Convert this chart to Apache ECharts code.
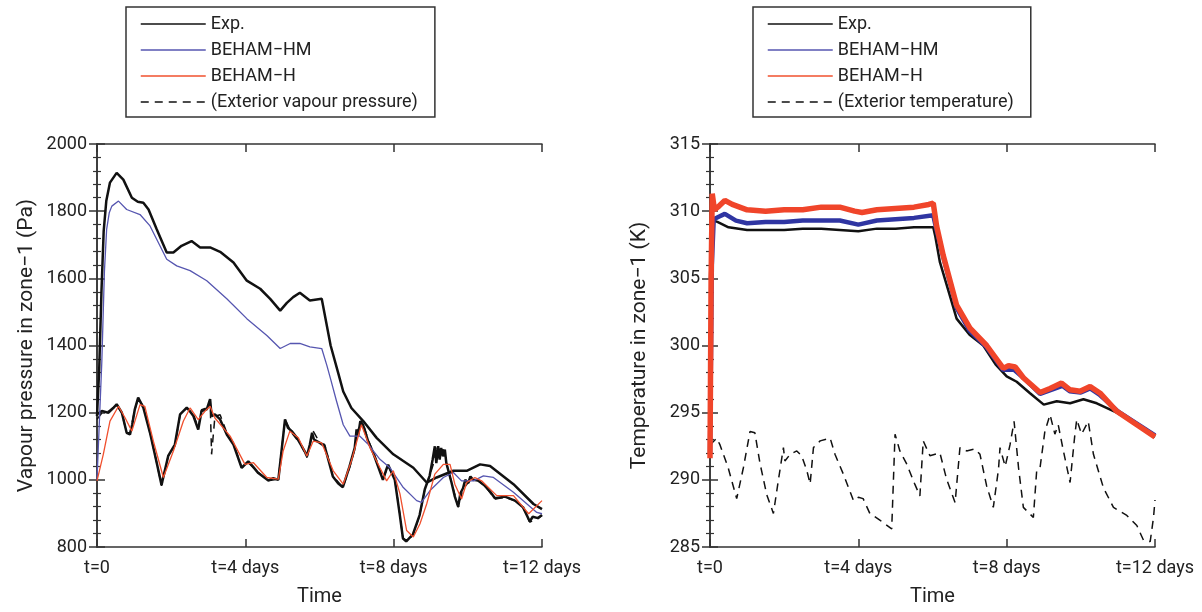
<!DOCTYPE html>
<html>
<head>
<meta charset="utf-8">
<script src="https://cdn.jsdelivr.net/npm/echarts@6/dist/echarts.min.js"></script>
<style>
  html, body { margin: 0; padding: 0; background: #fff; }
  #chart { width: 1202px; height: 612px; }
</style>
</head>
<body>
<div id="chart"></div>
<script>
// time axis labels (days)
var xTickLabels = ['t=0', 't=4 days', 't=8 days', 't=12 days'];

// ---- left panel: vapour pressure (Pa), [t in days, value]
var vpExp = [[0,1190],[0.06,1330],[0.12,1560],[0.18,1740],[0.25,1830],[0.35,1885],[0.53,1914],[0.71,1894],[0.94,1840],[1.1,1828],[1.25,1825],[1.39,1805],[1.61,1746],[1.88,1677],[2.06,1677],[2.28,1697],[2.55,1711],[2.78,1692],[3.05,1692],[3.32,1679],[3.68,1647],[4.04,1593],[4.4,1569],[4.67,1539],[4.94,1504],[5.12,1527],[5.29,1544],[5.47,1557],[5.74,1534],[6.06,1539],[6.3,1400],[6.5,1320],[6.64,1263],[6.86,1214],[7.18,1175],[7.54,1125],[7.99,1076],[8.53,1036],[8.89,992],[9.16,1007],[9.61,1027],[9.97,1027],[10.33,1046],[10.6,1041],[11.23,987],[11.77,928],[12,913]];
var vpHM = [[0,1000],[0.13,1352],[0.2,1620],[0.26,1746],[0.33,1795],[0.4,1815],[0.58,1830],[0.8,1805],[1.16,1790],[1.43,1756],[1.88,1657],[2.15,1637],[2.51,1623],[2.96,1593],[3.5,1539],[4.04,1480],[4.58,1430],[4.94,1391],[5.21,1406],[5.47,1406],[5.74,1396],[6.06,1391],[6.2,1340],[6.3,1300],[6.46,1234],[6.64,1164],[6.82,1130],[7.09,1130],[7.32,1105],[7.63,1061],[7.9,1036],[8.26,977],[8.62,938],[8.75,933],[8.98,968],[9.34,1007],[9.61,1022],[9.83,997],[10.15,997],[10.42,1012],[10.69,1007],[11.23,963],[11.86,903],[12,899]];
var vpH = [[0,997],[0.17,1076],[0.35,1175],[0.58,1219],[0.76,1184],[0.94,1145],[1.16,1224],[1.29,1219],[1.52,1115],[1.79,1007],[2.06,1086],[2.33,1175],[2.51,1214],[2.73,1179],[2.91,1204],[3.05,1219],[3.18,1184],[3.59,1130],[3.99,1046],[4.22,1051],[4.58,1007],[4.89,1002],[5.02,1086],[5.2,1145],[5.43,1125],[5.66,1071],[5.83,1115],[6.06,1110],[6.37,1027],[6.64,987],[6.86,1056],[7.13,1164],[7.36,1096],[7.63,1036],[7.81,997],[7.99,1027],[8.17,958],[8.35,849],[8.53,830],[8.71,869],[8.89,928],[9.11,1017],[9.34,1046],[9.52,1046],[9.65,987],[9.83,943],[9.97,992],[10.19,1007],[10.37,997],[10.78,953],[11.23,953],[11.64,899],[12,938]];
var vpExpLow = [[0,1195],[0.13,1205],[0.31,1200],[0.45,1215],[0.53,1225],[0.67,1200],[0.8,1140],[0.89,1135],[0.95,1165],[1.02,1210],[1.11,1245],[1.25,1215],[1.43,1140],[1.61,1051],[1.74,985],[1.92,1071],[2.1,1105],[2.24,1195],[2.42,1215],[2.5,1205],[2.6,1190],[2.73,1150],[2.82,1205],[2.96,1210],[3.05,1240],[3.09,1190],[3.18,1195],[3.32,1180],[3.5,1135],[3.68,1105],[3.9,1036],[4.08,1055],[4.2,1040],[4.35,1020],[4.62,998],[4.75,1005],[4.89,1000],[4.98,1090],[5.07,1180],[5.15,1155],[5.25,1145],[5.39,1125],[5.52,1100],[5.6,1085],[5.66,1070],[5.74,1105],[5.8,1140],[5.85,1120],[6.01,1110],[6.14,1100],[6.36,1010],[6.5,990],[6.63,978],[6.81,1040],[6.95,1095],[7.0,1150],[7.04,1130],[7.1,1175],[7.17,1165],[7.31,1115],[7.45,1080],[7.53,1055],[7.71,1000],[7.8,1030],[7.85,1045],[8.03,1000],[8.16,900],[8.25,826],[8.34,817],[8.52,838],[8.7,895],[8.84,972],[8.97,1012],[9.05,1060],[9.11,1100],[9.15,1050],[9.2,1100],[9.24,1060],[9.28,1095],[9.33,1070],[9.38,1090],[9.42,1050],[9.56,992],[9.65,950],[9.74,920],[9.8,960],[9.87,975],[9.93,1000],[10.01,990],[10.07,1010],[10.14,1000],[10.28,998],[10.46,982],[10.6,965],[10.73,945],[11,950],[11.27,938],[11.49,918],[11.67,876],[11.75,890],[11.89,886],[12,895]];
var vpExt = [[0,1180],[0.13,1199],[0.31,1204],[0.53,1224],[0.67,1199],[0.8,1140],[0.89,1140],[1.02,1209],[1.11,1243],[1.25,1219],[1.43,1140],[1.61,1051],[1.74,982],[1.92,1071],[2.1,1101],[2.24,1194],[2.42,1214],[2.6,1194],[2.73,1155],[2.82,1209],[2.96,1214],[3.05,1238],[3.09,1076],[3.18,1189],[3.32,1194],[3.5,1140],[3.68,1110],[3.9,1036],[4.08,1051],[4.35,1022],[4.62,997],[4.89,1002],[4.98,1091],[5.07,1179],[5.25,1140],[5.39,1120],[5.52,1101],[5.66,1066],[5.74,1101],[5.83,1145],[6.01,1110],[6.14,1105],[6.36,1012],[6.63,977],[6.81,1036],[6.95,1091],[7.04,1150],[7.17,1170],[7.31,1120],[7.53,1061],[7.71,1002],[7.85,1041],[8.03,1002],[8.16,903],[8.25,825],[8.34,815],[8.52,835],[8.7,894],[8.84,972],[8.97,1012],[9.11,1061],[9.15,1101],[9.24,1071],[9.33,1091],[9.42,1051],[9.56,992],[9.74,918],[9.87,972],[10.01,992],[10.14,1002],[10.28,997],[10.46,982],[10.73,943],[11,948],[11.27,938],[11.49,918],[11.67,874],[11.89,884],[12,894]];

// ---- right panel: temperature (K)
var tExp = [[0,305],[0.04,308.5],[0.08,309.3],[0.2,309.2],[0.5,308.8],[1,308.6],[1.5,308.6],[2,308.6],[2.5,308.7],[3,308.7],[3.5,308.6],[4,308.5],[4.5,308.7],[5,308.7],[5.5,308.8],[6.02,308.8],[6.07,308.2],[6.2,306.2],[6.47,303.7],[6.65,302],[7,300.8],[7.37,300],[7.7,298.6],[8,297.7],[8.27,297.3],[8.63,296.45],[9,295.6],[9.35,295.85],[9.71,295.7],[10.07,296],[10.43,295.7],[10.97,295],[11.51,294.1],[12,293.2]];
var tHM = [[0,292],[0.05,306],[0.1,309.4],[0.25,309.6],[0.4,309.8],[0.7,309.3],[1,309.1],[1.5,309.2],[2,309.2],[2.5,309.3],[3,309.3],[3.5,309.3],[4,309],[4.5,309.3],[5,309.4],[5.5,309.5],[6.02,309.7],[6.1,308.7],[6.3,306.5],[6.65,302.8],[7,301.1],[7.45,299.9],[7.9,298.2],[8.2,298.2],[8.45,297.6],[8.9,296.4],[9.2,296.7],[9.5,297],[9.7,296.6],[10,296.5],[10.25,296.8],[10.5,296.35],[11,295.1],[11.5,294.2],[12,293.3]];
var tH = [[0,291.6],[0.03,305],[0.06,311.3],[0.12,310.1],[0.25,310.4],[0.4,310.8],[0.6,310.5],[1,310.1],[1.5,310],[2,310.1],[2.5,310.1],[3,310.3],[3.5,310.3],[3.9,310],[4.1,309.9],[4.5,310.1],[5,310.2],[5.5,310.3],[5.9,310.5],[6.02,310.6],[6.11,308.9],[6.29,306.7],[6.65,303],[7.01,301.3],[7.46,300],[7.91,298.3],[8.05,298.5],[8.23,298.4],[8.45,297.6],[8.9,296.5],[9.17,296.8],[9.48,297.2],[9.71,296.7],[9.98,296.6],[10.25,296.95],[10.52,296.45],[10.97,295.1],[11.51,294.1],[12,293.2]];
var tExt = [[0,292.6],[0.18,293.1],[0.27,292.6],[0.49,290.9],[0.72,288.6],[0.9,290.9],[1.08,293.6],[1.21,293.5],[1.35,291.2],[1.53,288.9],[1.71,287.5],[1.84,289.9],[1.98,292.4],[2.02,291.4],[2.16,291.9],[2.34,292.15],[2.47,291.8],[2.61,290.7],[2.7,289.7],[2.79,292.4],[2.97,292.9],[3.24,293.1],[3.37,291.9],[3.6,290.4],[3.87,288.45],[4,288.7],[4.13,288.6],[4.31,287.5],[4.58,287],[4.9,286.35],[4.99,293.4],[5.12,292.15],[5.3,291.2],[5.52,289.7],[5.66,288.8],[5.75,292.9],[5.93,291.8],[6.2,292],[6.38,290.05],[6.61,288.3],[6.74,292.4],[6.92,292.15],[7.15,292.3],[7.28,291.9],[7.46,289.55],[7.64,287.95],[7.78,290.8],[7.82,292.4],[7.96,291],[8.09,292.6],[8.2,294.35],[8.32,290.9],[8.45,287.95],[8.72,287.2],[8.81,290.7],[8.9,290.9],[9.03,293.6],[9.17,294.85],[9.3,293.4],[9.39,294.1],[9.53,292.15],[9.71,289.8],[9.84,293.4],[9.89,294.5],[10.02,293.4],[10.2,294.35],[10.34,291.9],[10.61,289.4],[10.88,287.95],[11.24,287.35],[11.51,286.6],[11.69,285.5],[11.87,285.4],[11.96,287.2],[12,288.5]];

var FONT = 'Roboto';
var TXT = '#222';
var AX = '#333';

function xAxes(gi) {
  var base = {
    gridIndex: gi, type: 'value', min: 0, max: 12, interval: 4,
    axisLine: { lineStyle: { color: AX, width: 1.5 } },
    axisTick: { inside: true, length: 8, lineStyle: { color: AX, width: 1.5 } },
    splitLine: { show: false }
  };
  var bottom = Object.assign({}, base, {
    position: 'bottom',
    name: 'Time', nameLocation: 'middle', nameGap: 40,
    nameTextStyle: { fontFamily: FONT, fontSize: 20, color: TXT },
    axisLabel: { fontFamily: FONT, fontSize: 18, color: TXT, margin: 12,
      formatter: function (v) { return xTickLabels[Math.round(v / 4)]; } }
  });
  var top = Object.assign({}, base, { position: 'top', axisLabel: { show: false } });
  return [bottom, top];
}

function yAxes(gi, min, max, interval, name) {
  var base = {
    gridIndex: gi, type: 'value', min: min, max: max, interval: interval,
    axisLine: { show: true, lineStyle: { color: AX, width: 1.5 } },
    axisTick: { show: true, inside: true, length: 8, lineStyle: { color: AX, width: 1.5 } },
    minorTick: { show: true, splitNumber: 5, length: 4, lineStyle: { color: AX, width: 1.2 } },
    splitLine: { show: false }
  };
  var left = Object.assign({}, base, {
    position: 'left',
    name: name, nameLocation: 'middle', nameGap: 60,
    nameTextStyle: { fontFamily: FONT, fontSize: 21, color: TXT },
    axisLabel: { fontFamily: FONT, fontSize: 18, color: TXT, margin: 10,
      formatter: function (v) { return String(v); } }
  });
  var right = Object.assign({}, base, { position: 'right', axisLabel: { show: false } });
  return [left, right];
}

function line(name, data, xi, yi, color, width, dashed, z) {
  return {
    name: name, type: 'line', data: data, xAxisIndex: xi, yAxisIndex: yi,
    symbol: 'none', smooth: false, z: z,
    lineStyle: { color: color, width: width, type: dashed ? [8, 6] : 'solid' },
    itemStyle: { color: color },
    emphasis: { disabled: true }
  };
}

function legend(left, names) {
  return {
    orient: 'vertical', left: left, top: 7,
    data: names,
    itemWidth: 65, itemHeight: 12, itemGap: 6,
    padding: [7, 17, 5, 14],
    borderColor: AX, borderWidth: 1.5,
    textStyle: { fontFamily: FONT, fontSize: 18, lineHeight: 20, color: TXT },
    lineStyle: { width: 1.5 },
    itemStyle: { opacity: 0 },
    selectedMode: false
  };
}

var xs = xAxes(0).concat(xAxes(1));
var ys = yAxes(0, 800, 2000, 200, 'Vapour pressure in zone\u22121 (Pa)')
  .concat(yAxes(1, 285, 315, 5, 'Temperature in zone\u22121 (K)'));

var option = {
  animation: false,
  backgroundColor: '#fff',
  grid: [
    { left: 97, top: 144, width: 445, height: 406 },
    { left: 710, top: 144, width: 445, height: 406 }
  ],
  legend: [
    legend(126, ['Exp.', 'BEHAM\u2212HM', 'BEHAM\u2212H', '(Exterior vapour pressure)']),
    legend(753, ['Exp.', 'BEHAM\u2212HM', 'BEHAM\u2212H', '(Exterior temperature)'])
  ],
  xAxis: xs,
  yAxis: ys,
  series: [
    line('Exp.', vpExp, 0, 0, '#111', 2.5, false, 5),
    line('(Exterior vapour pressure)', vpExt, 0, 0, '#111', 1.5, true, 2),
    line('Exp.', vpExpLow, 0, 0, '#111', 2.5, false, 3),
    line('BEHAM\u2212HM', vpHM, 0, 0, '#5656b0', 1.3, false, 4),
    line('BEHAM\u2212H', vpH, 0, 0, '#f0502e', 1.3, false, 6),

    line('(Exterior temperature)', tExt, 2, 2, '#111', 1.5, true, 2),
    line('Exp.', tExp, 2, 2, '#111', 2.5, false, 3),
    line('BEHAM\u2212HM', tHM, 2, 2, '#2f35a2', 4.5, false, 4),
    line('BEHAM\u2212H', tH, 2, 2, '#f0452a', 5.5, false, 5)
  ]
};

var chart = echarts.init(document.getElementById('chart'));
chart.setOption(option);
</script>
</body>
</html>
